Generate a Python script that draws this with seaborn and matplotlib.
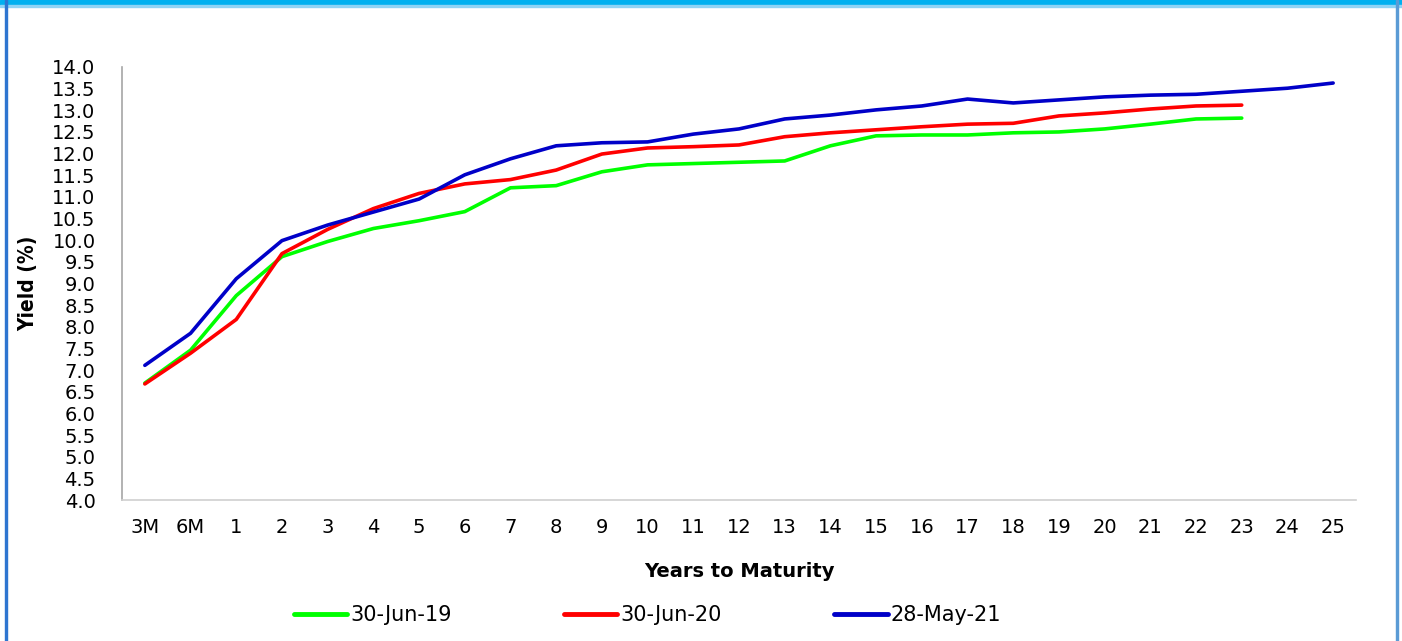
import pandas as pd
import matplotlib.pyplot as plt
import seaborn as sns
from matplotlib.patches import Rectangle

# 満期ラベル
tenors = ['3M', '6M'] + [str(i) for i in range(1, 26)]

# 利回り (%)
jun19 = [6.70, 7.46, 8.72, 9.62, 9.97, 10.27, 10.45, 10.66, 11.21, 11.26, 11.58, 11.74,
         11.77, 11.80, 11.83, 12.18, 12.41, 12.43, 12.43, 12.48, 12.50, 12.57, 12.68,
         12.80, 12.82]
jun20 = [6.68, 7.39, 8.17, 9.69, 10.25, 10.73, 11.08, 11.30, 11.40, 11.62, 11.99, 12.13,
         12.16, 12.20, 12.39, 12.48, 12.55, 12.62, 12.68, 12.70, 12.87, 12.94, 13.03,
         13.10, 13.12]
may21 = [7.11, 7.85, 9.11, 9.99, 10.35, 10.65, 10.95, 11.51, 11.88, 12.18, 12.25, 12.27,
         12.45, 12.57, 12.80, 12.89, 13.01, 13.10, 13.26, 13.17, 13.24, 13.31, 13.35,
         13.37, 13.44, 13.51, 13.63]

series = {'30-Jun-19': jun19, '30-Jun-20': jun20, '28-May-21': may21}
colors = {'30-Jun-19': '#00FF00', '30-Jun-20': '#FF0000', '28-May-21': '#0000C8'}

rows = []
for name, vals in series.items():
    for t, v in zip(tenors, vals):
        rows.append({'tenor': t, 'yield': v, 'curve': name})
data = pd.DataFrame(rows)

sns.set_style('white')
plt.rcParams['font.family'] = ['DejaVu Sans']
plt.rcParams['text.color'] = 'black'
plt.rcParams['axes.labelcolor'] = 'black'
plt.rcParams['xtick.color'] = 'black'
plt.rcParams['ytick.color'] = 'black'

fig = plt.figure(figsize=(14.02, 6.41), dpi=100)
ax = fig.add_axes([122 / 1402, 1 - 500 / 641, 1234 / 1402, 433 / 641])

sns.lineplot(data=data, x='tenor', y='yield', hue='curve', palette=colors,
             sort=False, linewidth=2.6, ax=ax)
for ln in ax.lines:
    ln.set_solid_capstyle('round')

ax.set_xlim(-0.5, len(tenors) - 0.5)
ax.set_ylim(4.0, 14.0)
ax.set_yticks([4.0 + 0.5 * i for i in range(21)])
ax.set_yticklabels([f'{4.0 + 0.5 * i:.1f}' for i in range(21)])
ax.tick_params(axis='y', length=0, pad=19, labelsize=14)
ax.tick_params(axis='x', length=0, pad=13, labelsize=14)

for s in ['top', 'right']:
    ax.spines[s].set_visible(False)
ax.spines['left'].set_color('#A6A6A6')
ax.spines['left'].set_linewidth(1.2)
ax.spines['bottom'].set_color('#D0D0D0')
ax.spines['bottom'].set_linewidth(1.2)

ax.set_xlabel('Years to Maturity', fontsize=14, fontweight='bold', labelpad=18)
ax.set_ylabel('Yield (%)', fontsize=15, fontweight='bold', fontstretch='condensed')
ax.yaxis.set_label_coords(-84 / 1234, 0.5)

sns.move_legend(ax, 'center', bbox_to_anchor=(0.426, -0.266), ncol=3, title=None,
                frameon=False, fontsize=15, handlelength=2.55, handletextpad=0.15,
                columnspacing=5.4)
for h in ax.get_legend().legend_handles:
    h.set_linewidth(3.5)

# 枠線
fig.patches.append(Rectangle((0, 1 - 5 / 641), 1, 5 / 641, transform=fig.transFigure,
                             color='#00B0F0', zorder=0))
fig.patches.append(Rectangle((0, 1 - 7 / 641), 1, 2 / 641, transform=fig.transFigure,
                             color='#8FD3F5', zorder=0))
fig.patches.append(Rectangle((5 / 1402, 0), 1.5 / 1402, 1, transform=fig.transFigure,
                             color='#2E75D0', zorder=0))
fig.patches.append(Rectangle((1396 / 1402, 0), 1.5 / 1402, 1, transform=fig.transFigure,
                             color='#5B9BD5', zorder=0))

fig.savefig('out.png', dpi=100)
